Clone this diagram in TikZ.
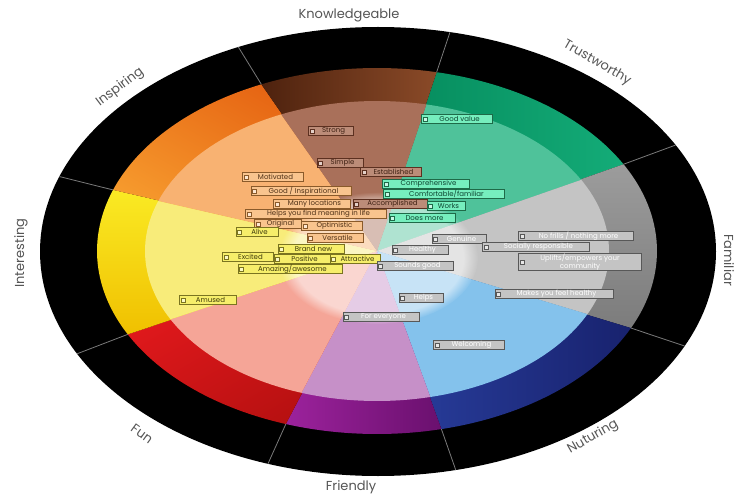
\documentclass[tikz,border=0pt]{standalone}
\usepackage{fontspec}
\setmainfont{Open Sans}
\newfontfamily\ringfont{Poppins}
\usetikzlibrary{calc,fadings}
\definecolor{brO1}{HTML}{4E220E}\definecolor{brO2}{HTML}{8A4A28}
\definecolor{grO1}{HTML}{04885A}\definecolor{grO2}{HTML}{14AC78}
\definecolor{gyO1}{HTML}{9C9C9C}\definecolor{gyO2}{HTML}{7C7C7C}
\definecolor{blO1}{HTML}{2A40A0}\definecolor{blO2}{HTML}{18226E}
\definecolor{puO1}{HTML}{9C229C}\definecolor{puO2}{HTML}{6A106E}
\definecolor{rdO1}{HTML}{E81A1E}\definecolor{rdO2}{HTML}{B41010}
\definecolor{yeO1}{HTML}{FAEA24}\definecolor{yeO2}{HTML}{F0C000}
\definecolor{orO1}{HTML}{E45E10}\definecolor{orO2}{HTML}{F8A030}
\definecolor{brI}{HTML}{A9705A}\definecolor{grI}{HTML}{4FC29A}
\definecolor{gyI}{HTML}{C4C4C4}\definecolor{blI}{HTML}{84C2EC}
\definecolor{puI}{HTML}{C690C8}\definecolor{rdI}{HTML}{F5A597}
\definecolor{yeI}{HTML}{F8EC7A}\definecolor{orI}{HTML}{F8B272}
\definecolor{bxF}{HTML}{BC8C78}\definecolor{bxD}{HTML}{5C3020}\definecolor{bxT}{HTML}{3E2012}
\definecolor{oxF}{HTML}{F9C48E}\definecolor{oxD}{HTML}{8A5A2A}\definecolor{oxT}{HTML}{4E3016}
\definecolor{yxF}{HTML}{F6EE6A}\definecolor{yxD}{HTML}{7A7420}\definecolor{yxT}{HTML}{3E3A0C}
\definecolor{gxF}{HTML}{76EEBE}\definecolor{gxD}{HTML}{1E6A48}\definecolor{gxT}{HTML}{0C4430}
\definecolor{sxF}{HTML}{C4C4C4}\definecolor{sxD}{HTML}{585858}\definecolor{sxT}{HTML}{FFFFFF}
\definecolor{ringtext}{HTML}{555555}
\definecolor{divline}{HTML}{7A7A7A}
\newcommand\wsec[5]{\path[#1] (C) -- ($(C)+(#2:#4 and #5)$) arc[start angle=#2, end angle=#3, x radius=#4, y radius=#5] -- cycle;}
\tikzset{
  ring/.style={font=\ringfont\fontsize{13}{15}\selectfont, text=ringtext, inner sep=0pt},
  divider/.style={draw=divline, line width=0.8pt},
  lbl/.style n args={3}{draw=#2, fill=#1, text=#3, line width=0.8pt, minimum height=9.5pt,
    inner xsep=1pt, inner ysep=0.3pt, font=\ringfont\fontsize{7}{8}\selectfont,
    path picture={\draw[#2, line width=0.4pt, fill=white!60!#1]
      ([xshift=1.6pt,yshift=-2pt]path picture bounding box.west) rectangle ++(4pt,4pt);}},
  bx/.style={lbl={bxF}{bxD}{bxT}},
  ox/.style={lbl={oxF}{oxD}{oxT}},
  yx/.style={lbl={yxF}{yxD}{yxT}},
  gx/.style={lbl={gxF}{gxD}{gxT}},
  sx/.style={lbl={sxF}{sxD}{sxT}},
}
\begin{document}
\begin{tikzpicture}[x=1pt,y=-1pt]
\useasboundingbox (0,0) rectangle (739,497);
\fill[white] (0,0) rectangle (739,497);
\coordinate (O) at (378,251.5);
\coordinate (C) at (377,251);
% black ring
\fill[black] (O) ellipse [x radius=338, y radius=224.5];
% outer coloured sectors
\wsec{left color=grO1, right color=grO2}{-77.7}{-28.3}{280}{183}
\wsec{top color=gyO1, bottom color=gyO2}{-28.3}{24.9}{280}{183}
\wsec{left color=blO1, right color=blO2}{24.9}{76.7}{280}{183}
\wsec{left color=puO1, right color=puO2}{76.7}{109}{280}{183}
\wsec{left color=rdO1, right color=rdO2, shading angle=30}{109}{152.9}{280}{183}
\wsec{top color=yeO1, bottom color=yeO2}{152.9}{199.5}{280}{183}
\wsec{left color=orO1, right color=orO2, shading angle=-30}{199.5}{245.6}{280}{183}
\wsec{left color=brO1, right color=brO2}{245.6}{282.3}{280}{183}
% inner lighter sectors
\wsec{fill=grI}{-77.7}{-28.3}{232}{150}
\wsec{fill=gyI}{-28.3}{24.9}{232}{150}
\wsec{fill=blI}{24.9}{76.7}{232}{150}
\wsec{fill=puI}{76.7}{109}{232}{150}
\wsec{fill=rdI}{109}{152.9}{232}{150}
\wsec{fill=yeI}{152.9}{199.5}{232}{150}
\wsec{fill=orI}{199.5}{245.6}{232}{150}
\wsec{fill=brI}{245.6}{282.3}{232}{150}
% hub
\fill[white, opacity=0.55, path fading=circle with fuzzy edge 15 percent] (378,258) ellipse [x radius=100, y radius=66];
% dividers in the black ring
\foreach \a [count=\i] in {-77.7,-28.3,24.9,76.7,109,152.9,199.5,245.6}{
  \coordinate (di\i) at ($(C)+(\a:280 and 183)$);
  \coordinate (do\i) at ($(O)+(\a:338 and 224.5)$);
  \draw[divider] (di\i) -- (do\i);
}
% ring labels
\node[ring] (lK) at (349,15) {Knowledgeable};
\node[ring, rotate=-30] (lT) at (597,63) {Trustworthy};
\node[ring, rotate=-90] (lFa) at (729,260) {Familiar};
\node[ring, rotate=30] (lN) at (593,437) {Nuturing};
\node[ring] (lFr) at (351,487) {Friendly};
\node[ring, rotate=-36] (lFu) at (142,434) {Fun};
\node[ring, rotate=90] (lI) at (21,253) {Interesting};
\node[ring, rotate=37] (lIn) at (120,87) {Inspiring};
% brown boxes
\node[bx, minimum width=45pt] (b1) at (331,131) {\hspace{5pt}Strong};
\node[bx, minimum width=46pt] (b2) at (340,163) {\hspace{5pt}Simple};
\node[bx, minimum width=61pt] (b3) at (391,172) {\hspace{5pt}Established};
\node[bx, minimum width=74pt] (b4) at (390,204) {\hspace{5pt}Accomplished};
% orange boxes
\node[ox, minimum width=61pt] (o1) at (273,177) {\hspace{5pt}Motivated};
\node[ox, minimum width=100pt] (o2) at (301,191) {\hspace{5pt}Good / Inspirational};
\node[ox, minimum width=77pt] (o3) at (312,204) {\hspace{5pt}Many locations};
\node[ox, minimum width=141pt] (o4) at (316,214) {\hspace{5pt}Helps you find meaning in life};
\node[ox, minimum width=47pt] (o5) at (278,224) {\hspace{5pt}Original};
\node[ox, minimum width=61pt] (o6) at (332,226) {\hspace{5pt}Optimistic};
\node[ox, minimum width=56pt] (o7) at (335,238) {\hspace{5pt}Versatile};
% yellow boxes
\node[yx, minimum width=42pt] (y1) at (257,232) {\hspace{5pt}Alive};
\node[yx, minimum width=66pt] (y2) at (311,249) {\hspace{5pt}Brand new};
\node[yx, minimum width=51pt] (y3) at (248,257) {\hspace{5pt}Excited};
\node[yx, minimum width=56pt] (y4) at (302,259) {\hspace{5pt}Positive};
\node[yx, minimum width=50pt] (y5) at (355,259) {\hspace{5pt}Attractive};
\node[yx, minimum width=104pt] (y6) at (290,269) {\hspace{5pt}Amazing/awesome};
\node[yx, minimum width=57pt] (y7) at (208,300) {\hspace{5pt}Amused};
% green boxes
\node[gx, minimum width=71pt] (g1) at (457,119) {\hspace{5pt}Good value};
\node[gx, minimum width=87pt] (g2) at (426,184) {\hspace{5pt}Comprehensive};
\node[gx, minimum width=121pt] (g3) at (444,194) {\hspace{5pt}Comfortable/familiar};
\node[gx, minimum width=38pt] (g4) at (446,206) {\hspace{5pt}Works};
\node[gx, minimum width=66pt] (g5) at (422,218) {\hspace{5pt}Does more};
% grey boxes
\node[sx, minimum width=54pt] (s1) at (459,239) {\hspace{5pt}Genuine};
\node[sx, minimum width=56pt] (s2) at (420,250) {\hspace{5pt}Healthy};
\node[sx, minimum width=76pt] (s3) at (415,266) {\hspace{5pt}Sounds good};
\node[sx, minimum width=115pt] (s4) at (576,236) {\hspace{5pt}No frills / nothing more};
\node[sx, minimum width=107pt] (s5) at (536,247) {\hspace{5pt}Socially responsible};
\node[sx, minimum width=123pt, align=center, font=\ringfont\fontsize{7}{8.5}\selectfont] (s6) at (580,262) {Uplifts/empowers your\\community};
\node[sx, minimum width=118pt] (s7) at (554,294) {\hspace{5pt}Makes you feel healthy};
\node[sx, minimum width=44pt] (s8) at (421,298) {\hspace{5pt}Helps};
\node[sx, minimum width=76pt] (s9) at (381,317) {\hspace{5pt}For everyone};
\node[sx, minimum width=71pt] (s10) at (469,345) {\hspace{5pt}Welcoming};
\end{tikzpicture}
\end{document}
